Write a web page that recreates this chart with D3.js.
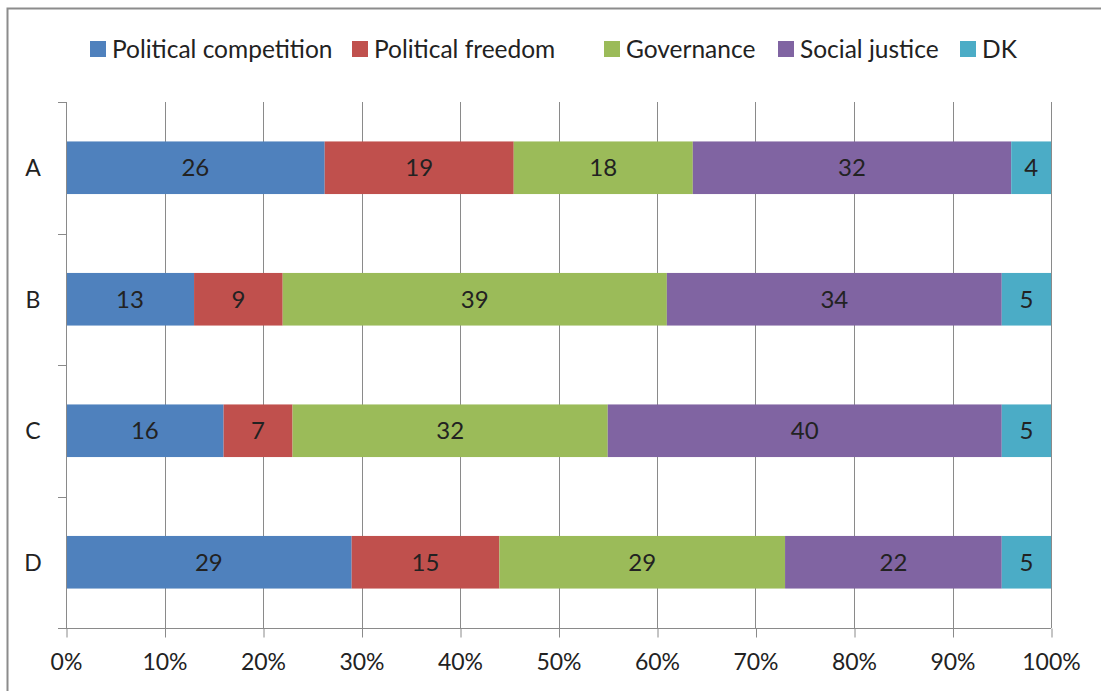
<!DOCTYPE html>
<html>
<head>
<meta charset="utf-8">
<script src="https://cdn.jsdelivr.net/npm/d3@7"></script>
<style>
  html, body { margin: 0; padding: 0; background: #fff; }
  svg { display: block; font-family: Lato, "Open Sans", sans-serif; }
</style>
</head>
<body>
<svg id="chart" width="1101" height="691"></svg>
<script>
// Respondent groups (rows of the chart)
const categories = ["A", "B", "C", "D"];

// Answer options, in stacking order
const seriesNames = ["Political competition", "Political freedom", "Governance", "Social justice", "DK"];
const seriesColors = ["#4F81BD", "#C0504D", "#9BBB59", "#8064A2", "#4BACC6"];

// Shares (%) per group for each answer option
const politicalCompetition = [26, 13, 16, 29];
const politicalFreedom     = [19,  9,  7, 15];
const governance           = [18, 39, 32, 29];
const socialJustice        = [32, 34, 40, 22];
const dontKnow             = [ 4,  5,  5,  5];

const xTicks = [0, 0.1, 0.2, 0.3, 0.4, 0.5, 0.6, 0.7, 0.8, 0.9, 1.0];

const seriesValues = [politicalCompetition, politicalFreedom, governance, socialJustice, dontKnow];

// Build one record per group; each row is drawn as a 100% stacked bar
const rows = categories.map((c, i) => {
  const r = { category: c };
  seriesNames.forEach((s, k) => { r[s] = seriesValues[k][i]; });
  return r;
});

const stack = d3.stack()
  .keys(seriesNames)
  .offset(d3.stackOffsetExpand);
const layers = stack(rows);

const svg = d3.select("#chart");
const W = 1101, H = 691;
const textColor = "#222";

// Chart area frame
svg.append("rect")
  .attr("x", 7.5).attr("y", 8.5)
  .attr("width", W + 10).attr("height", H + 10)
  .attr("fill", "#fff")
  .attr("stroke", "#8c8c8c")
  .attr("stroke-width", 2);

const plot = { left: 66, right: 1051, top: 102, bottom: 628 };

const x = d3.scaleLinear().domain([0, 1]).range([plot.left, plot.right]);
const y = d3.scaleBand().domain(categories).range([plot.top, plot.bottom]).paddingInner(0.6).paddingOuter(0.3);
const yBand = d3.scaleBand().domain(categories).range([plot.top, plot.bottom]);

const gridColor = "#8a8a8a";

// Vertical gridlines
svg.append("g")
  .selectAll("line")
  .data(xTicks)
  .join("line")
  .attr("x1", d => Math.round(x(d)) + 0.5)
  .attr("x2", d => Math.round(x(d)) + 0.5)
  .attr("y1", plot.top)
  .attr("y2", plot.bottom)
  .attr("stroke", gridColor)
  .attr("stroke-width", 1);

// Stacked bars
const gLayers = svg.append("g")
  .selectAll("g")
  .data(layers)
  .join("g")
  .attr("fill", (d, i) => seriesColors[i]);

gLayers.selectAll("rect")
  .data(d => d)
  .join("rect")
  .attr("x", d => x(d[0]))
  .attr("y", d => y(d.data.category))
  .attr("width", d => x(d[1]) - x(d[0]))
  .attr("height", y.bandwidth());

// Value labels centred in each segment
gLayers.each(function(layer) {
  d3.select(this).selectAll("text")
    .data(layer)
    .join("text")
    .attr("x", d => (x(d[0]) + x(d[1])) / 2)
    .attr("y", d => y(d.data.category) + y.bandwidth() / 2)
    .attr("dy", "0.36em")
    .attr("text-anchor", "middle")
    .attr("fill", textColor)
    .attr("font-size", 24)
    .text(d => d.data[layer.key]);
});

// Bottom axis
const xAxis = d3.axisBottom(x)
  .tickValues(xTicks)
  .tickFormat(d3.format(".0%"))
  .tickSize(9)
  .tickPadding(16);

const gx = svg.append("g")
  .attr("transform", `translate(0,${plot.bottom + 0.5})`)
  .call(xAxis);
gx.select(".domain").remove();
gx.append("line")
  .attr("x1", plot.left - 8).attr("x2", plot.right)
  .attr("y1", 0).attr("y2", 0)
  .attr("stroke", gridColor);
gx.selectAll(".tick line").attr("stroke", gridColor)
  .attr("transform", "translate(0.5,0)");
gx.selectAll(".tick text")
  .attr("fill", textColor)
  .attr("font-size", 23)
  .attr("font-family", "Lato, 'Open Sans', sans-serif");

// Left axis line with tick marks between groups
const gy = svg.append("g");
gy.append("line")
  .attr("x1", plot.left + 0.5).attr("x2", plot.left + 0.5)
  .attr("y1", plot.top).attr("y2", plot.bottom)
  .attr("stroke", gridColor);
const boundaries = categories.map(c => yBand(c)).concat([plot.bottom]);
gy.selectAll("line.tk")
  .data(boundaries)
  .join("line")
  .attr("class", "tk")
  .attr("x1", plot.left - 8).attr("x2", plot.left)
  .attr("y1", d => Math.round(d) + 0.5)
  .attr("y2", d => Math.round(d) + 0.5)
  .attr("stroke", gridColor);
gy.selectAll("text")
  .data(categories)
  .join("text")
  .attr("x", 33)
  .attr("y", d => y(d) + y.bandwidth() / 2)
  .attr("dy", "0.36em")
  .attr("text-anchor", "middle")
  .attr("fill", textColor)
  .attr("font-size", 23)
  .text(d => d);

// Legend
const legendX = [90, 352, 604, 778, 960];
const legend = svg.append("g")
  .selectAll("g")
  .data(seriesNames)
  .join("g")
  .attr("transform", (d, i) => `translate(${legendX[i]},41)`);
legend.append("rect")
  .attr("width", 16).attr("height", 16)
  .attr("fill", (d, i) => seriesColors[i]);
legend.append("text")
  .attr("x", 22)
  .attr("y", 8)
  .attr("dy", "0.36em")
  .attr("fill", textColor)
  .attr("font-size", 24.5)
  .text(d => d);
</script>
</body>
</html>
